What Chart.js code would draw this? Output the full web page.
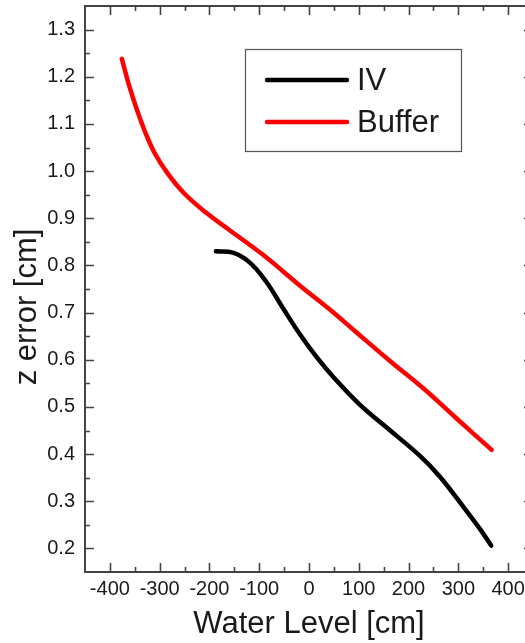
<!DOCTYPE html>
<html>
<head>
<meta charset="utf-8">
<script src="https://cdn.jsdelivr.net/npm/chart.js@4.4.1/dist/chart.umd.min.js"></script>
<style>
  html, body { margin: 0; padding: 0; background: #fff; overflow: hidden; }
  #wrap { width: 535px; height: 643px; }
</style>
</head>
<body>
<div id="wrap"><canvas id="graph"></canvas></div>
<script>
// water level [cm] vs z error [cm]
const ivLevel = [-187, -153, -120, -87, -55, -19, 15, 51, 102, 162, 223, 263, 303, 343, 366];
const ivError = [0.830, 0.827, 0.807, 0.767, 0.714, 0.655, 0.606, 0.561, 0.505, 0.451, 0.396, 0.352, 0.298, 0.242, 0.206];

const bufferLevel = [-376, -361, -346, -330, -311, -284, -251, -207, -160, -93, -18, 40, 92, 162, 229, 296, 367];
const bufferError = [1.238, 1.180, 1.131, 1.085, 1.040, 0.995, 0.953, 0.912, 0.875, 0.823, 0.757, 0.708, 0.661, 0.598, 0.540, 0.476, 0.409];

const xTicks = [-400, -300, -200, -100, 0, 100, 200, 300, 400];
const yTicks = [0.2, 0.3, 0.4, 0.5, 0.6, 0.7, 0.8, 0.9, 1.0, 1.1, 1.2, 1.3];

const xTitle = 'Water Level [cm]';
const yTitle = 'z error [cm]';

const FONT = "'Liberation Sans', Arial, sans-serif";
const TEXT = '#1a1a1a';
const FRAME = '#444';

function toPoints(xs, ys) {
	return xs.map((x, i) => ({ x: x, y: ys[i] }));
}

// frame with inward major/minor ticks, Origin style
const framePlugin = {
	id: 'frame',
	afterDatasetsDraw(chart) {
		const ctx = chart.ctx;
		const a = chart.chartArea;
		const xs = chart.scales.x;
		const ys = chart.scales.y;
		ctx.save();
		ctx.strokeStyle = FRAME;
		ctx.lineWidth = 2;
		ctx.strokeRect(a.left, a.top, a.right - a.left, a.bottom - a.top);
		ctx.lineWidth = 1.6;
		ctx.beginPath();
		for (let v = -450; v <= 450; v += 50) {
			if (v <= xs.min || v >= xs.max) continue;
			const px = Math.round(xs.getPixelForValue(v)) + 0.5;
			const len = (v % 100 === 0) ? 9 : 5;
			ctx.moveTo(px, a.bottom); ctx.lineTo(px, a.bottom - len);
			ctx.moveTo(px, a.top); ctx.lineTo(px, a.top + len);
		}
		for (let i = 3; i < 27; ++i) {
			const v = i * 0.05;
			if (v <= ys.min + 1e-9 || v >= ys.max - 1e-9) continue;
			const py = Math.round(ys.getPixelForValue(v)) + 0.5;
			const len = (i % 2 === 0) ? 9 : 5;
			ctx.moveTo(a.left, py); ctx.lineTo(a.left + len, py);
			ctx.moveTo(a.right, py); ctx.lineTo(a.right - len, py);
		}
		ctx.stroke();
		ctx.restore();
	}
};

// y title sits a little below the middle of the axis
const yTitlePlugin = {
	id: 'yTitle',
	afterDraw(chart) {
		const ctx = chart.ctx;
		const a = chart.chartArea;
		ctx.save();
		ctx.translate(27, (a.top + a.bottom) / 2 + 18);
		ctx.rotate(-Math.PI / 2);
		ctx.font = '31px ' + FONT;
		ctx.fillStyle = TEXT;
		ctx.textAlign = 'center';
		ctx.textBaseline = 'middle';
		ctx.fillText(yTitle, 0, 0);
		ctx.restore();
	}
};

// boxed legend in the upper right of the plot
const legendBoxPlugin = {
	id: 'legendBox',
	afterDraw(chart) {
		const ctx = chart.ctx;
		ctx.save();
		ctx.strokeStyle = '#555';
		ctx.lineWidth = 1.2;
		ctx.strokeRect(245.5, 49.5, 216, 102);
		ctx.font = '31px ' + FONT;
		ctx.textBaseline = 'middle';
		ctx.fillStyle = TEXT;
		const rows = [80, 122];
		chart.data.datasets.forEach((ds, i) => {
			ctx.strokeStyle = ds.borderColor;
			ctx.lineWidth = 4.5;
			ctx.lineCap = 'round';
			ctx.beginPath();
			ctx.moveTo(267, rows[i]);
			ctx.lineTo(347, rows[i]);
			ctx.stroke();
			ctx.fillText(ds.label, 357, rows[i] + 1);
		});
		ctx.restore();
	}
};

const graph = new Chart(document.getElementById('graph'), {
	type: 'line',
	data: {
		datasets: [{
			label: 'IV',
			data: toPoints(ivLevel, ivError),
			borderColor: '#000000',
			borderWidth: 4.5,
			borderCapStyle: 'round',
			borderJoinStyle: 'round',
			pointRadius: 0,
			tension: 0.4,
			fill: false
		}, {
			label: 'Buffer',
			data: toPoints(bufferLevel, bufferError),
			borderColor: '#ff0000',
			borderWidth: 4.5,
			borderCapStyle: 'round',
			borderJoinStyle: 'round',
			pointRadius: 0,
			tension: 0.4,
			fill: false
		}]
	},
	options: {
		responsive: true,
		maintainAspectRatio: false,
		animation: false,
		layout: { padding: { top: 6, right: 2, left: 0, bottom: 0 } },
		plugins: {
			legend: { display: false },
			tooltip: { enabled: false }
		},
		scales: {
			x: {
				type: 'linear',
				min: -450,
				max: 450,
				afterBuildTicks: (scale) => { scale.ticks = xTicks.map(v => ({ value: v })); },
				afterFit: (scale) => {
					scale.height = 71;
					scale.paddingLeft = 0;
					scale.paddingRight = 0;
				},
				grid: { display: false, drawTicks: false },
				border: { display: false },
				ticks: {
					color: TEXT,
					padding: 5,
					maxRotation: 0,
					font: { family: FONT, size: 20 }
				},
				title: {
					display: true,
					text: xTitle,
					color: TEXT,
					padding: { top: 0, bottom: 0 },
					font: { family: FONT, size: 31 }
				}
			},
			y: {
				type: 'linear',
				min: 0.15,
				max: 1.35,
				afterBuildTicks: (scale) => { scale.ticks = yTicks.map(v => ({ value: v })); },
				afterFit: (scale) => {
					scale.width = 85;
					scale.paddingTop = 0;
					scale.paddingBottom = 0;
				},
				grid: { display: false, drawTicks: false },
				border: { display: false },
				ticks: {
					color: TEXT,
					padding: 10,
					font: { family: FONT, size: 20 },
					callback: (v) => Number(v).toFixed(1)
				},
				title: { display: false }
			}
		}
	},
	plugins: [framePlugin, yTitlePlugin, legendBoxPlugin]
});
</script>
</body>
</html>
